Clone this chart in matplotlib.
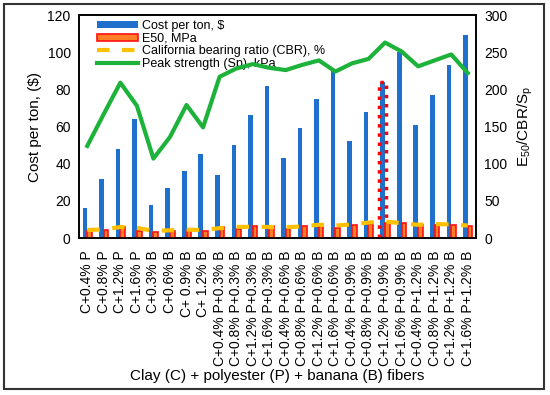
import numpy as np
import matplotlib.pyplot as plt
from matplotlib.patches import Rectangle

plt.rcParams['font.family'] = ['Liberation Sans', 'DejaVu Sans']
plt.rcParams['mathtext.default'] = 'regular'

labels = ['C+0.4% P', 'C+0.8% P', 'C+1.2% P', 'C+1.6% P',
          'C+0.3% B', 'C+0.6% B', 'C+ 0.9% B', 'C+ 1.2% B',
          'C+0.4% P+0.3% B', 'C+0.8% P+0.3% B', 'C+1.2% P+0.3% B', 'C+1.6% P+0.3% B',
          'C+0.4% P+0.6% B', 'C+0.8% P+0.6% B', 'C+1.2% P+0.6% B', 'C+1.6% P+0.6% B',
          'C+0.4% P+0.9% B', 'C+0.8% P+0.9% B', 'C+1.2% P+0.9% B', 'C+1.6% P+0.9% B',
          'C+0.4% P+1.2% B', 'C+0.8% P+1.2% B', 'C+1.2% P+1.2% B', 'C+1.6% P+1.2% B']
cost = [16, 32, 48, 64, 18, 27, 36, 45, 34, 50, 66, 82,
        43, 59, 75, 91, 52, 68, 84, 100, 61, 77, 93, 109]
e50 = [9, 11, 15, 10, 8, 9, 9, 9, 15, 13, 16, 16,
       12.5, 16, 17, 14, 18, 19, 20, 20, 18, 18, 18, 17]
cbr = [11, 11.7, 15, 14, 9.7, 10.6, 11.4, 11, 13.5, 15, 15.5, 15,
       14.5, 16, 18, 17, 18.5, 21, 22.5, 20, 18, 19, 18.5, 17]
sp = [124, 167, 209, 178, 107, 136, 179, 149, 217, 228, 234, 229,
      226, 233, 239, 224, 235, 241, 263, 251, 231, 239, 247, 222]
highlight = 18  # C+1.2% P+0.9% B

x = np.arange(len(labels))
w = 0.28

fig = plt.figure(figsize=(5.5, 3.95), dpi=100)
ax = fig.add_axes([0.1436, 0.397, 0.7219, 0.565])
ax2 = ax.twinx()

b1 = ax.bar(x - w/2, cost, w, color='#1f6fcc', label='Cost per ton, $', zorder=2)
ax.bar(x[highlight] - w/2, cost[highlight], w * 1.5, fill=False, edgecolor='red',
       linestyle=':', linewidth=2.5, zorder=3)
b2 = ax2.bar(x + w/2, e50, w, color='#ff7f27', edgecolor='#ff1010', linewidth=1.2,
             label='E50, MPa', zorder=2)
l1, = ax2.plot(x, cbr, color='#ffc000', lw=3, dashes=(3, 3),
               label='California bearing ratio (CBR), %', zorder=3)
l2, = ax2.plot(x, sp, color='#1db23a', lw=3, label='Peak strength (Sp), kPa', zorder=3)

ax.set_xlim(-0.5, len(labels) - 0.5)
ax.set_ylim(0, 120)
ax2.set_ylim(0, 300)
ax.set_yticks(range(0, 121, 20))
ax2.set_yticks(range(0, 301, 50))
ax.set_xticks(x)
ax.set_xticklabels(labels, rotation=90, fontsize=10)
ax.tick_params(axis='x', length=0, pad=9)
ax.tick_params(axis='y', length=0, labelsize=10, pad=6)
ax2.tick_params(axis='y', length=0, labelsize=10, pad=6)

for a in (ax, ax2):
    for s in a.spines.values():
        s.set_linewidth(1.2)
        s.set_color('black')

ax.set_ylabel('Cost per ton, ($)', fontsize=11, labelpad=4)
ax2.set_ylabel('E$_{50}$/CBR/S$_p$', fontsize=11, labelpad=6)
ax.set_xlabel('Clay (C) + polyester (P) + banana (B) fibers', fontsize=11, labelpad=2)

leg = ax.legend(handles=[b1, b2, l1, l2], loc='upper left',
                bbox_to_anchor=(0.03, 1.005), frameon=False, fontsize=9,
                handlelength=3.3, handleheight=0.55, labelspacing=0.05,
                borderpad=0, handletextpad=0.25)
leg.set_zorder(5)

fig.patches.append(Rectangle((4/550, 6/395), 540/550, 385/395, transform=fig.transFigure,
                             fill=False, edgecolor='#333333', linewidth=1.5))

fig.savefig('out.png', dpi=100)
